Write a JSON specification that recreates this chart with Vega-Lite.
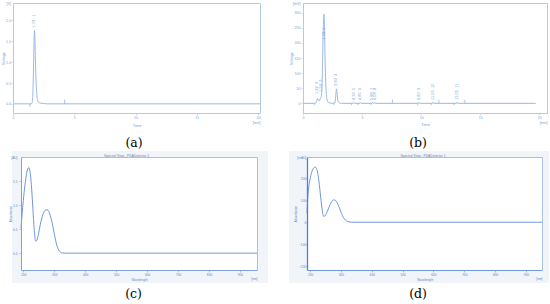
{
  "$schema": "https://vega.github.io/schema/vega-lite/v6.json",
  "background": "white",
  "padding": 0,
  "autosize": {"type": "pad"},
  "bounds": "flush",
  "align": "each",
  "columns": 2,
  "spacing": {"row": 3, "column": 0},
  "config": {
    "view": {"stroke": null},
    "axis": {
      "labelFont": "Liberation Sans", "titleFont": "Liberation Sans",
      "labelFontSize": 3.6, "titleFontSize": 4, "titleFontWeight": "normal",
      "labelColor": "#7a9fd6", "titleColor": "#7a9fd6",
      "domainColor": "#b3c9ea", "tickColor": "#b3c9ea", "tickSize": 2, "tickWidth": 0.6, "domainWidth": 1,
      "labelPadding": 0.5, "titlePadding": 1, "grid": false,
      "labelOverlap": false, "labelBound": false, "labelFlush": false
    },
    "title": {"font": "DejaVu Serif", "fontSize": 12.5, "fontWeight": "normal", "color": "#000000", "offset": 0}
  },
  "concat": [
    {
      "width": 275, "height": 137,
      "title": {"text": "(a)", "orient": "bottom", "frame": "group", "anchor": "middle", "offset": 0, "dx": -3.5},
      "layer": [
        {
          "data": {"values": [
            {"t": 0, "v": 0}, {"t": 1.5, "v": 0}, {"t": 1.56, "v": 0.03}, {"t": 1.61, "v": 0.18},
            {"t": 1.65, "v": 0.55}, {"t": 1.69, "v": 1.1}, {"t": 1.72, "v": 1.52}, {"t": 1.75, "v": 1.76},
            {"t": 1.78, "v": 1.64}, {"t": 1.81, "v": 1.28}, {"t": 1.85, "v": 0.82}, {"t": 1.9, "v": 0.42},
            {"t": 1.95, "v": 0.2}, {"t": 2.0, "v": 0.09}, {"t": 2.1, "v": 0.035}, {"t": 2.25, "v": 0.015},
            {"t": 2.5, "v": 0.008}, {"t": 2.8, "v": 0}, {"t": 20.15, "v": 0}
          ]},
          "mark": {"type": "line", "color": "#8fb1e1", "strokeWidth": 0.9, "interpolate": "monotone"},
          "encoding": {
            "x": {"field": "t", "type": "quantitative",
              "scale": {"domain": [0, 20.15], "range": [13, 260], "nice": false, "zero": false},
              "axis": {"orient": "bottom", "offset": -24, "zindex": 1, "values": [0, 5, 10, 15, 20, 20.15], "format": "d",
                "labelExpr": "datum.value > 20.1 ? '[min]' : datum.label",
                "labelAlign": {"condition": {"test": "datum.value > 20.1", "value": "right"}, "value": "center"},
                "labelPadding": {"condition": {"test": "datum.value > 20.1", "value": 5.5}, "value": 0.5},
                "tickOpacity": {"condition": {"test": "datum.value > 20.1", "value": 0}, "value": 1},
                "title": "Time", "titleY": 12, "titleBaseline": "middle"}},
            "y": {"field": "v", "type": "quantitative",
              "scale": {"domain": [-0.22, 2.42], "range": [113, 3], "nice": false, "zero": false},
              "axis": {"orient": "left", "offset": -13, "zindex": 1, "values": [0, 0.5, 1, 1.5, 2, 2.42], "format": ".1f",
                "labelExpr": "datum.value > 2.4 ? '[V]' : datum.label",
                "tickOpacity": {"condition": {"test": "datum.value > 2.4", "value": 0}, "value": 1},
                "title": "Voltage", "titleX": -10, "titleBaseline": "middle"}}
          }
        },
        {
          "data": {"values": [{"t": 1.38, "v0": 0, "v1": -0.07}, {"t": 4.22, "v0": 0, "v1": 0.1}]},
          "mark": {"type": "rule", "color": "#8fb1e1", "strokeWidth": 0.8},
          "encoding": {
            "x": {"field": "t", "type": "quantitative",
              "axis": {"orient": "top", "offset": -3, "zindex": 1, "labels": false, "ticks": false, "title": null}},
            "y": {"field": "v0", "type": "quantitative",
              "axis": {"orient": "right", "offset": -15, "zindex": 1, "labels": false, "ticks": false, "title": null}},
            "y2": {"field": "v1"}
          }
        },
        {
          "data": {"values": [{"t": 1.75, "v": 1.78, "label": "1.72\u00a0\u00a0\u00a01"}]},
          "mark": {"type": "text", "angle": 270, "align": "left", "baseline": "middle", "dx": 2, "fontSize": 4, "font": "Liberation Sans", "color": "#7a9fd6"},
          "encoding": {
            "x": {"field": "t", "type": "quantitative", "axis": null},
            "y": {"field": "v", "type": "quantitative", "axis": null},
            "text": {"field": "label"}
          }
        }
      ],
      "resolve": {"axis": {"x": "independent", "y": "independent"}}
    },
    {
      "width": 275, "height": 137,
      "title": {"text": "(b)", "orient": "bottom", "frame": "group", "anchor": "middle", "offset": 0, "dx": 5.5},
      "layer": [
        {
          "data": {"values": [
            {"t": 0, "v": 0}, {"t": 0.95, "v": 0}, {"t": 1.08, "v": 1}, {"t": 1.15, "v": 6}, {"t": 1.2, "v": 14},
            {"t": 1.24, "v": 16}, {"t": 1.3, "v": 11}, {"t": 1.37, "v": 8}, {"t": 1.43, "v": 12}, {"t": 1.49, "v": 19},
            {"t": 1.54, "v": 22}, {"t": 1.59, "v": 40}, {"t": 1.64, "v": 100}, {"t": 1.69, "v": 200}, {"t": 1.74, "v": 275},
            {"t": 1.78, "v": 295}, {"t": 1.82, "v": 250}, {"t": 1.86, "v": 165}, {"t": 1.91, "v": 85}, {"t": 1.96, "v": 38},
            {"t": 2.02, "v": 15}, {"t": 2.1, "v": 5}, {"t": 2.25, "v": 1.5}, {"t": 2.5, "v": 0}, {"t": 2.68, "v": 1},
            {"t": 2.74, "v": 12}, {"t": 2.79, "v": 35}, {"t": 2.83, "v": 48}, {"t": 2.87, "v": 38}, {"t": 2.92, "v": 18},
            {"t": 2.98, "v": 6}, {"t": 3.08, "v": 1.5}, {"t": 3.25, "v": 0}, {"t": 4.25, "v": 0}, {"t": 4.3, "v": 3},
            {"t": 4.36, "v": 0}, {"t": 4.8, "v": 0}, {"t": 4.85, "v": 3}, {"t": 4.91, "v": 0}, {"t": 5.83, "v": 0},
            {"t": 5.88, "v": 3}, {"t": 5.94, "v": 0}, {"t": 6.03, "v": 0}, {"t": 6.08, "v": 3}, {"t": 6.14, "v": 0},
            {"t": 9.78, "v": 0}, {"t": 9.83, "v": 3}, {"t": 9.89, "v": 0}, {"t": 10.95, "v": 0}, {"t": 11.0, "v": 4},
            {"t": 11.06, "v": 0}, {"t": 13.0, "v": 0}, {"t": 13.05, "v": 4}, {"t": 13.11, "v": 0}, {"t": 19.7, "v": 0}
          ]},
          "mark": {"type": "line", "color": "#8fb1e1", "strokeWidth": 0.9, "interpolate": "monotone"},
          "encoding": {
            "x": {"field": "t", "type": "quantitative",
              "scale": {"domain": [0, 20.65], "range": [28, 272], "nice": false, "zero": false},
              "axis": {"orient": "bottom", "offset": -24, "zindex": 1, "values": [0, 5, 10, 15, 20, 20.65], "format": "d",
                "labelExpr": "datum.value > 20.5 ? '[min]' : datum.label",
                "labelAlign": {"condition": {"test": "datum.value > 20.5", "value": "right"}, "value": "center"},
                "labelPadding": {"condition": {"test": "datum.value > 20.5", "value": 5.5}, "value": 0.5},
                "tickOpacity": {"condition": {"test": "datum.value > 20.5", "value": 0}, "value": 1},
                "title": "Time", "titleY": 11, "titleBaseline": "middle"}},
            "y": {"field": "v", "type": "quantitative",
              "scale": {"domain": [-32, 332], "range": [113, 3], "nice": false, "zero": false},
              "axis": {"orient": "left", "offset": -28, "zindex": 1, "values": [0, 50, 100, 150, 200, 250, 300, 332], "format": "d",
                "labelExpr": "datum.value > 320 ? '[mV]' : datum.label", "labelPadding": 1,
                "tickOpacity": {"condition": {"test": "datum.value > 320", "value": 0}, "value": 1},
                "title": "Voltage", "titleX": -12, "titleBaseline": "middle"}}
          }
        },
        {
          "data": {"values": [
            {"t": 0.99, "v0": 0, "v1": -6}, {"t": 2.62, "v0": 0, "v1": -6}, {"t": 4.1, "v0": 0, "v1": -6},
            {"t": 4.66, "v0": 0, "v1": -6}, {"t": 5.75, "v0": 0, "v1": -6}, {"t": 7.57, "v0": 0, "v1": 13},
            {"t": 9.7, "v0": 0, "v1": -6}, {"t": 10.85, "v0": 0, "v1": -6}, {"t": 11.5, "v0": 0, "v1": 12},
            {"t": 12.77, "v0": 0, "v1": -6}, {"t": 13.7, "v0": 0, "v1": 12}
          ]},
          "mark": {"type": "rule", "color": "#8fb1e1", "strokeWidth": 0.7},
          "encoding": {
            "x": {"field": "t", "type": "quantitative",
              "axis": {"orient": "top", "offset": -3, "zindex": 1, "labels": false, "ticks": false, "title": null}},
            "y": {"field": "v0", "type": "quantitative",
              "axis": {"orient": "right", "offset": -3, "zindex": 1, "labels": false, "ticks": false, "title": null}},
            "y2": {"field": "v1"}
          }
        },
        {
          "data": {"values": [
            {"t": 1.22, "v": 26, "label": "1.22\u00a0\u00a02"},
            {"t": 1.52, "v": 33, "label": "1.52\u00a0\u00a03"},
            {"t": 1.77, "v": 205, "label": "1.78\u00a0\u00a01"},
            {"t": 2.83, "v": 53, "label": "2.83\u00a0\u00a04"},
            {"t": 4.3, "v": 6, "label": "4.30\u00a0\u00a05"},
            {"t": 4.85, "v": 6, "label": "4.85\u00a0\u00a06"},
            {"t": 5.88, "v": 6, "label": "5.88\u00a0\u00a07"},
            {"t": 6.08, "v": 6, "label": "6.08\u00a0\u00a08"},
            {"t": 9.83, "v": 6, "label": "9.83\u00a0\u00a09"},
            {"t": 11.0, "v": 6, "label": "11.00\u00a0\u00a010"},
            {"t": 13.05, "v": 6, "label": "13.05\u00a0\u00a011"}
          ]},
          "mark": {"type": "text", "angle": 270, "align": "left", "baseline": "middle", "dx": 1.5, "fontSize": 4, "font": "Liberation Sans", "color": "#7a9fd6"},
          "encoding": {
            "x": {"field": "t", "type": "quantitative", "axis": null},
            "y": {"field": "v", "type": "quantitative", "axis": null},
            "text": {"field": "label"}
          }
        }
      ],
      "resolve": {"axis": {"x": "independent", "y": "independent"}}
    },
    {
      "width": 275, "height": 148,
      "title": {"text": "(c)", "orient": "bottom", "frame": "group", "anchor": "middle", "offset": 0, "dx": -4},
      "layer": [
        {
          "data": {"values": [{}]},
          "mark": {"type": "rect", "color": "#f1f4f9"},
          "encoding": {
            "x": {"datum": 163.4, "type": "quantitative",
              "axis": {"orient": "top", "offset": -17, "zindex": 1, "labels": false, "ticks": false, "domainColor": "#a9c1e8",
                "title": "Spectral View - PDADetector 1", "titleX": 126, "titleY": -2, "titleBaseline": "middle",
                "titleFontSize": 3.3, "titleColor": "#6d84aa"}},
            "x2": {"datum": 990.6},
            "y": {"datum": 2.125, "type": "quantitative", "axis": null},
            "y2": {"datum": -0.62}
          }
        },
        {
          "data": {"values": [{}]},
          "mark": {"type": "rect", "color": "#ffffff"},
          "encoding": {
            "x": {"datum": 192.5, "type": "quantitative", "axis": null},
            "x2": {"datum": 955},
            "y": {"datum": -0.35, "type": "quantitative",
              "axis": {"orient": "right", "offset": -18, "zindex": 1, "labels": false, "ticks": false, "title": null, "domainColor": "#a9c1e8"}},
            "y2": {"datum": 2.0}
          }
        },
        {
          "data": {"values": [
            {"nm": 192.5, "a": 0.52}, {"nm": 196, "a": 0.8}, {"nm": 200, "a": 1.1}, {"nm": 205, "a": 1.4},
            {"nm": 210, "a": 1.63}, {"nm": 214, "a": 1.75}, {"nm": 218, "a": 1.78}, {"nm": 222, "a": 1.68},
            {"nm": 226, "a": 1.42}, {"nm": 230, "a": 1.02}, {"nm": 234, "a": 0.6}, {"nm": 237, "a": 0.36},
            {"nm": 240, "a": 0.25}, {"nm": 244, "a": 0.27}, {"nm": 249, "a": 0.4}, {"nm": 255, "a": 0.6},
            {"nm": 261, "a": 0.76}, {"nm": 267, "a": 0.86}, {"nm": 273, "a": 0.9}, {"nm": 278, "a": 0.9},
            {"nm": 284, "a": 0.84}, {"nm": 290, "a": 0.72}, {"nm": 296, "a": 0.54}, {"nm": 302, "a": 0.34},
            {"nm": 308, "a": 0.17}, {"nm": 314, "a": 0.07}, {"nm": 320, "a": 0.02}, {"nm": 328, "a": 0.003},
            {"nm": 340, "a": 0}, {"nm": 955, "a": 0}
          ]},
          "mark": {"type": "line", "color": "#7098da", "strokeWidth": 1, "interpolate": "monotone"},
          "encoding": {
            "x": {"field": "nm", "type": "quantitative",
              "scale": {"domain": [192.5, 955], "range": [21, 257], "nice": false, "zero": false},
              "axis": {"orient": "bottom", "offset": -18, "zindex": 1, "values": [200, 300, 400, 500, 600, 700, 800, 900, 955], "format": "d",
                "labelExpr": "datum.value > 950 ? '[nm]' : datum.label",
                "labelAlign": {"condition": {"test": "datum.value > 950", "value": "right"}, "value": "center"},
                "labelPadding": {"condition": {"test": "datum.value > 950", "value": 4}, "value": 0},
                "tickOpacity": {"condition": {"test": "datum.value > 950", "value": 0}, "value": 1},
                "labelFontSize": 3.2, "titleFontSize": 3.1, "labelColor": "#5f86c8", "titleColor": "#5f86c8",
                "domainColor": "#7ea2dc", "tickColor": "#7ea2dc",
                "title": "Wavelength", "titleY": 9, "titleBaseline": "middle"}},
            "y": {"field": "a", "type": "quantitative",
              "scale": {"domain": [-0.35, 2.0], "range": [130, 17], "nice": false, "zero": false},
              "axis": {"orient": "left", "offset": -21, "zindex": 1, "values": [0, 0.5, 1, 1.5, 2], "format": ".1f",
                "labelExpr": "datum.value > 1.95 ? '[AU]' : datum.label", "labelPadding": 2,
                "tickOpacity": {"condition": {"test": "datum.value > 1.95", "value": 0}, "value": 1},
                "labelFontSize": 3.2, "titleFontSize": 3.1, "labelColor": "#5f86c8", "titleColor": "#5f86c8",
                "domainColor": "#7ea2dc", "tickColor": "#7ea2dc",
                "title": "Absorbance", "titleX": -11, "titleBaseline": "middle"}}
          }
        }
      ],
      "resolve": {"axis": {"x": "independent", "y": "independent"}}
    },
    {
      "width": 275, "height": 148,
      "title": {"text": "(d)", "orient": "bottom", "frame": "group", "anchor": "middle", "offset": 0, "dx": 5.5},
      "layer": [
        {
          "data": {"values": [{}]},
          "mark": {"type": "rect", "color": "#f1f4f9"},
          "encoding": {
            "x": {"datum": 131.6, "type": "quantitative",
              "axis": {"orient": "top", "offset": -17, "zindex": 1, "labels": false, "ticks": false, "domainColor": "#a9c1e8",
                "title": "Spectral View - PDADetector 1", "titleX": 147.5, "titleY": -2, "titleBaseline": "middle",
                "titleFontSize": 3.3, "titleColor": "#6d84aa"}},
            "x2": {"datum": 974.7},
            "y": {"datum": 322, "type": "quantitative", "axis": null},
            "y2": {"datum": -274.8}
          }
        },
        {
          "data": {"values": [{}]},
          "mark": {"type": "rect", "color": "#ffffff"},
          "encoding": {
            "x": {"datum": 190, "type": "quantitative", "axis": null},
            "x2": {"datum": 952},
            "y": {"datum": -216, "type": "quantitative",
              "axis": {"orient": "right", "offset": -8, "zindex": 1, "labels": false, "ticks": false, "title": null, "domainColor": "#a9c1e8"}},
            "y2": {"datum": 295}
          }
        },
        {
          "data": {"values": [
            {"nm": 190, "a": 41}, {"nm": 192, "a": 100}, {"nm": 195, "a": 150}, {"nm": 200, "a": 195},
            {"nm": 205, "a": 225}, {"nm": 210, "a": 242}, {"nm": 214, "a": 248}, {"nm": 218, "a": 249},
            {"nm": 222, "a": 238}, {"nm": 226, "a": 212}, {"nm": 230, "a": 170}, {"nm": 234, "a": 118},
            {"nm": 238, "a": 70}, {"nm": 241, "a": 40}, {"nm": 244, "a": 27}, {"nm": 248, "a": 28},
            {"nm": 253, "a": 40}, {"nm": 259, "a": 60}, {"nm": 265, "a": 80}, {"nm": 271, "a": 95},
            {"nm": 276, "a": 101}, {"nm": 281, "a": 100}, {"nm": 287, "a": 90}, {"nm": 293, "a": 72},
            {"nm": 299, "a": 50}, {"nm": 305, "a": 30}, {"nm": 311, "a": 15}, {"nm": 318, "a": 6},
            {"nm": 326, "a": 1.5}, {"nm": 335, "a": 0}, {"nm": 952, "a": 0}
          ]},
          "mark": {"type": "line", "color": "#6f97dc", "strokeWidth": 1, "interpolate": "monotone"},
          "encoding": {
            "x": {"field": "nm", "type": "quantitative",
              "scale": {"domain": [190, 952], "range": [32, 267], "nice": false, "zero": false},
              "axis": {"orient": "bottom", "offset": -18, "zindex": 1, "values": [200, 300, 400, 500, 600, 700, 800, 900, 952], "format": "d",
                "labelExpr": "datum.value > 950 ? '[nm]' : datum.label",
                "labelAlign": {"condition": {"test": "datum.value > 950", "value": "right"}, "value": "center"},
                "labelPadding": {"condition": {"test": "datum.value > 950", "value": 4}, "value": 0},
                "tickOpacity": {"condition": {"test": "datum.value > 950", "value": 0}, "value": 1},
                "labelFontSize": 3.2, "titleFontSize": 3.1, "labelColor": "#5f86c8", "titleColor": "#5f86c8",
                "domainColor": "#7099dc", "tickColor": "#7099dc",
                "title": "Wavelength", "titleY": 9, "titleBaseline": "middle"}},
            "y": {"field": "a", "type": "quantitative",
              "scale": {"domain": [-216, 295], "range": [130, 17], "nice": false, "zero": false},
              "axis": {"orient": "left", "offset": -32, "zindex": 1, "values": [-200, -100, 0, 100, 200, 295], "format": "d",
                "labelExpr": "datum.value > 290 ? '[mAU]' : datum.label", "labelPadding": 0.3, "tickSize": 1,
                "tickOpacity": {"condition": {"test": "datum.value > 290", "value": 0}, "value": 1},
                "labelFontSize": 3.2, "titleFontSize": 3.1, "labelColor": "#5f86c8", "titleColor": "#5f86c8",
                "domainColor": "#4f80de", "domainWidth": 1.3, "tickColor": "#4f80de",
                "title": "Absorbance", "titleX": -12, "titleBaseline": "middle"}}
          }
        }
      ],
      "resolve": {"axis": {"x": "independent", "y": "independent"}}
    }
  ]
}
